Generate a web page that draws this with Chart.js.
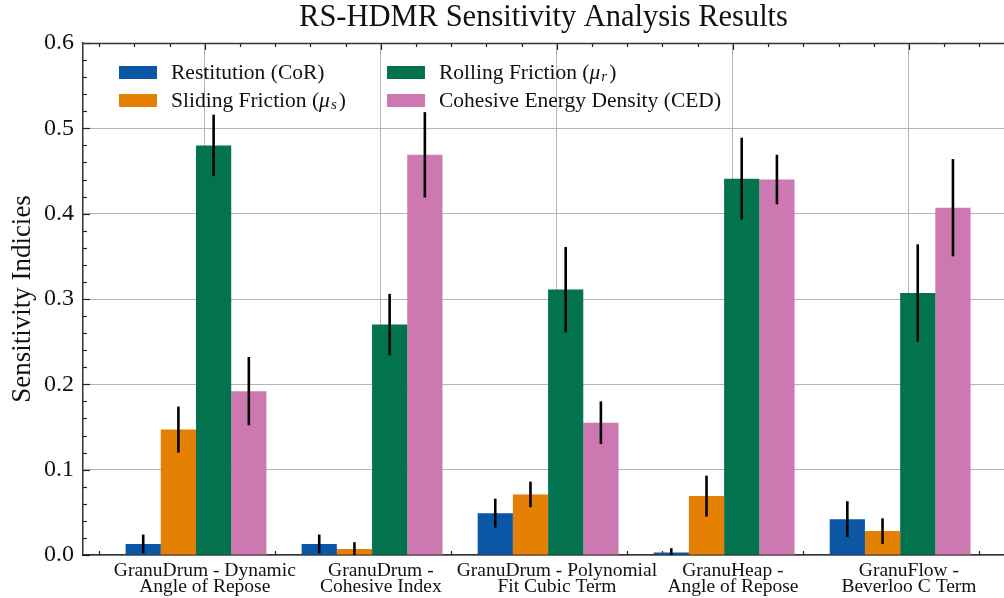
<!DOCTYPE html>
<html>
<head>
<meta charset="utf-8">
<script src="https://cdn.jsdelivr.net/npm/chart.js@4.4.1/dist/chart.umd.min.js"></script>
<style>
  html, body { margin: 0; padding: 0; background: #fff; }
  #wrap { width: 1004px; height: 598px; }
</style>
</head>
<body>
<div id="wrap"><canvas id="sensChart" width="1004" height="598"></canvas></div>
<script>
'use strict';

// categories (two-line tick labels)
var categories = [
    ['GranuDrum - Dynamic', 'Angle of Repose'],
    ['GranuDrum -', 'Cohesive Index'],
    ['GranuDrum - Polynomial', 'Fit Cubic Term'],
    ['GranuHeap -', 'Angle of Repose'],
    ['GranuFlow -', 'Beverloo C Term']
];

// "_x" after mu = subscript in the legend
var seriesNames = [
    'Restitution (CoR)',
    'Sliding Friction (\u03BC_s)',
    'Rolling Friction (\u03BC_r)',
    'Cohesive Energy Density (CED)'
];

var restitution    = [0.013, 0.013, 0.049, 0.003, 0.042];
var restitutionErr = [0.011, 0.011, 0.017, 0.005, 0.021];
var sliding        = [0.147, 0.007, 0.071, 0.069, 0.028];
var slidingErr     = [0.027, 0.008, 0.015, 0.024, 0.015];
var rolling        = [0.480, 0.270, 0.311, 0.441, 0.307];
var rollingErr     = [0.036, 0.036, 0.050, 0.048, 0.057];
var cohesive       = [0.192, 0.469, 0.155, 0.440, 0.407];
var cohesiveErr    = [0.040, 0.050, 0.025, 0.029, 0.057];

var yTicks = [0.0, 0.1, 0.2, 0.3, 0.4, 0.5, 0.6];

var colors = ['#0C56A6', '#E48104', '#03734F', '#CD78B0'];
var serif = "'Liberation Serif', 'DejaVu Serif', serif";

function points(vals) {
    return vals.map(function (v, i) { return { x: i, y: v }; });
}

function makeSet(idx, vals, errs) {
    return {
        label: seriesNames[idx],
        data: points(vals),
        errors: errs,
        backgroundColor: colors[idx],
        borderWidth: 0,
        categoryPercentage: 0.8,
        barPercentage: 1.0
    };
}

// error bars, drawn through the value scale
var errorBars = {
    id: 'errorBars',
    afterDatasetsDraw: function (chart) {
        var ctx = chart.ctx, y = chart.scales.y, area = chart.chartArea;
        ctx.save();
        ctx.beginPath();
        ctx.rect(area.left, area.top, area.right - area.left, area.bottom - area.top);
        ctx.clip();
        ctx.strokeStyle = '#000';
        ctx.lineWidth = 2.6;
        chart.data.datasets.forEach(function (ds, d) {
            var meta = chart.getDatasetMeta(d);
            meta.data.forEach(function (bar, i) {
                var v = ds.data[i].y, e = ds.errors[i];
                ctx.beginPath();
                ctx.moveTo(bar.x, y.getPixelForValue(v + e));
                ctx.lineTo(bar.x, y.getPixelForValue(v - e));
                ctx.stroke();
            });
        });
        ctx.restore();
    }
};

// inward ticks on left / top / bottom, plus the top spine
var innerTicks = {
    id: 'innerTicks',
    beforeDatasetsDraw: function (chart) {
        var ctx = chart.ctx, a = chart.chartArea;
        var xs = chart.scales.x, ys = chart.scales.y;
        ctx.save();
        ctx.strokeStyle = '#222';
        ctx.lineWidth = 1.2;
        var v, px, major;
        for (v = 0; v <= 0.6001; v += 0.02) {
            px = Math.round(ys.getPixelForValue(v)) + 0.5;
            major = Math.abs(v * 10 - Math.round(v * 10)) < 1e-6;
            ctx.beginPath();
            ctx.moveTo(a.left, px);
            ctx.lineTo(a.left + (major ? 7 : 4), px);
            ctx.stroke();
        }
        for (v = -0.55; v <= xs.max; v += 0.2) {
            px = Math.round(xs.getPixelForValue(v)) + 0.5;
            major = Math.abs((v - 0.05) - Math.round(v - 0.05)) < 1e-6 && v > 0;
            var len = major ? 7 : 4;
            ctx.beginPath();
            ctx.moveTo(px, a.top);
            ctx.lineTo(px, a.top + len);
            ctx.moveTo(px, a.bottom);
            ctx.lineTo(px, a.bottom - len);
            ctx.stroke();
        }
        ctx.lineWidth = 1.5;
        ctx.strokeStyle = '#333';
        ctx.beginPath();
        ctx.moveTo(a.left, a.top + 0.5);
        ctx.lineTo(a.right, a.top + 0.5);
        ctx.stroke();
        ctx.restore();
    }
};

// draw a legend label, with an italic mu and a subscript where "_" appears
function drawLabel(ctx, text, x, y, size) {
    var m = text.match(/^(.*)\u03BC_(.)(.*)$/);
    ctx.font = size + 'px ' + serif;
    if (!m) {
        ctx.fillText(text, x, y);
        return;
    }
    ctx.fillText(m[1], x, y);
    x += ctx.measureText(m[1]).width;
    ctx.font = 'italic ' + size + 'px ' + serif;
    ctx.fillText('\u03BC', x, y);
    x += ctx.measureText('\u03BC').width + 1;
    ctx.font = 'italic ' + Math.round(size * 0.7) + 'px ' + serif;
    ctx.fillText(m[2], x, y + 4);
    x += ctx.measureText(m[2]).width + 2;
    ctx.font = size + 'px ' + serif;
    ctx.fillText(m[3], x, y);
}

// two-column legend, matplotlib style (column major)
var gridLegend = {
    id: 'gridLegend',
    afterDraw: function (chart) {
        var ctx = chart.ctx, a = chart.chartArea;
        ctx.save();
        ctx.textBaseline = 'middle';
        chart.data.datasets.forEach(function (ds, i) {
            var col = Math.floor(i / 2), row = i % 2;
            var bx = a.left + 36 + col * 268;
            var by = a.top + 23 + row * 28;
            ctx.fillStyle = ds.backgroundColor;
            ctx.fillRect(bx, by, 38, 13);
            ctx.fillStyle = '#111';
            drawLabel(ctx, ds.label, bx + 52, by + 7, 21.5);
        });
        ctx.restore();
    }
};

var chart = new Chart(document.getElementById('sensChart'), {
    type: 'bar',
    data: {
        datasets: [
            makeSet(0, restitution, restitutionErr),
            makeSet(1, sliding, slidingErr),
            makeSet(2, rolling, rollingErr),
            makeSet(3, cohesive, cohesiveErr)
        ]
    },
    plugins: [innerTicks, errorBars, gridLegend],
    options: {
        responsive: false,
        animation: false,
        layout: { padding: 0 },
        plugins: {
            legend: { display: false },
            tooltip: { enabled: false },
            title: {
                display: true,
                fullSize: false,
                text: 'RS-HDMR Sensitivity Analysis Results',
                color: '#111',
                font: { family: serif, size: 30.5, weight: 'normal', lineHeight: 1 },
                padding: { top: 3, bottom: 9.5 }
            }
        },
        scales: {
            x: {
                type: 'linear',
                min: -0.642,
                max: 4.59,
                offset: false,
                grid: { offset: false, color: '#b5b5b5', lineWidth: 1, drawTicks: false },
                border: { color: '#333', width: 1.5 },
                afterBuildTicks: function (s) {
                    s.ticks = categories.map(function (c, i) { return { value: i + 0.05 }; });
                },
                afterFit: function (s) { s.height = 43; },
                ticks: {
                    autoSkip: false,
                    maxRotation: 0,
                    padding: 7,
                    color: '#111',
                    font: { family: serif, size: 19.5, lineHeight: 0.86 },
                    callback: function (v, i) { return categories[i]; }
                }
            },
            y: {
                min: 0,
                max: 0.6,
                afterBuildTicks: function (s) {
                    s.ticks = yTicks.map(function (t) { return { value: t }; });
                },
                afterFit: function (s) { s.width = 83; },
                grid: { color: '#b5b5b5', lineWidth: 1, drawTicks: false },
                border: { color: '#333', width: 1.5 },
                ticks: {
                    padding: 9,
                    color: '#111',
                    font: { family: serif, size: 24 },
                    callback: function (v) { return v.toFixed(1); }
                },
                title: {
                    display: true,
                    text: 'Sensitivity Indicies',
                    color: '#111',
                    padding: { top: 7, bottom: 0 },
                    font: { family: serif, size: 27 }
                }
            }
        }
    }
});
</script>
</body>
</html>
